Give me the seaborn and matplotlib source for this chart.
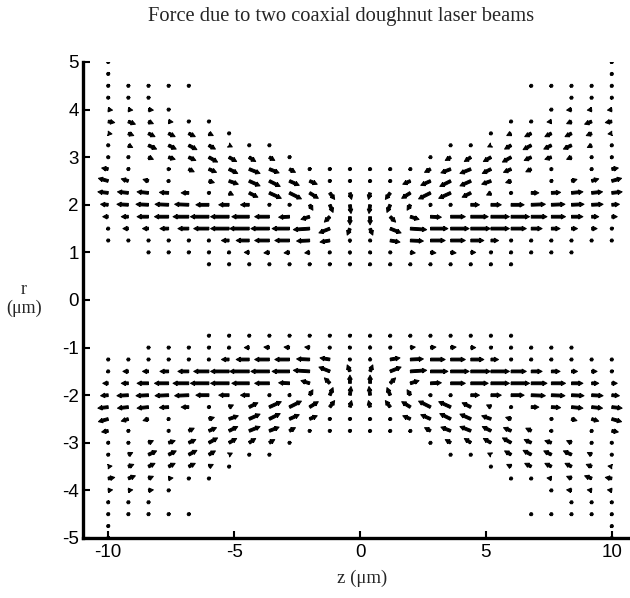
import numpy as np
import pandas as pd
import matplotlib
matplotlib.use("Agg")
import matplotlib.pyplot as plt
import seaborn as sns

# ---------------- data ----------------
title = "Force due to two coaxial doughnut laser beams"
x_label = "z (\u03bcm)"
y_label = "r\n(\u03bcm)"
x_ticks = [-10, -5, 0, 5, 10]
y_ticks = [-5, -4, -3, -2, -1, 0, 1, 2, 3, 4, 5]

# grid columns (z, um) and upper-half grid rows (r, um)
z_cols = [-10.0, -9.2, -8.4, -7.6, -6.8, -6.0, -5.2, -4.4, -3.6, -2.8, -2.0, -1.2, -0.4,
          0.4, 1.2, 2.0, 2.8, 3.6, 4.4, 5.2, 6.0, 6.8, 7.6, 8.4, 9.2, 10.0]
r_upper = [5.0, 4.75, 4.5, 4.25, 4.0, 3.75, 3.5, 3.25, 3.0, 2.75, 2.5, 2.25,
           2.0, 1.75, 1.5, 1.25, 1.0, 0.75]

# Force (Fz, Fr) read for the upper-left quadrant (z<0, r>0), arbitrary units.
# The plotted field is mirror symmetric: Fz flips sign across z=0, Fr across r=0.
D = (0.5, 0.0)   # tiny force, shows as a dot
N = None         # no arrow drawn
F_upper_left = [
    [D, N, N, N, N, N, N, N, N, N, N, N, N],                                     # r=5.0
    [D, N, N, N, N, N, N, N, N, N, N, N, N],                                     # 4.75
    [D, D, D, D, D, N, N, N, N, N, N, N, N],                                     # 4.5
    [(1.5, -0.5), D, D, N, N, N, N, N, N, N, N, N, N],                           # 4.25
    [(4, -0.5), (4, -0.5), (4.5, -0.5), D, N, N, N, N, N, N, N, N, N],           # 4.0
    [(6, -1), (6.5, -2.5), (4.5, -2), (4, -0.5), D, D, N, N, N, N, N, N, N],     # 3.75
    [(3.5, -0.5), (5, -2), (6, -3), (6, -3), (6, -3), (4, -2), D, N, N, N, N, N, N],  # 3.5
    [(3, -0.5), (4, -2), (7.5, -3.5), (7, -3.5), (7.5, -4), (6, -3.5), (3, -1.5), D, D,
     N, N, N, N],                                                                # 3.25
    [(1.5, -1), D, (4.5, -2), (6, -2), (6.5, -3), (8, -4.5), (7, -4), (6, -4), (5, -3), D,
     N, N, N],                                                                   # 3.0
    [(-6, 1), D, N, (2, -1), (5, -2.5), (7, -3), (8, -4), (10, -4), (9, -3.5), (5.5, -3),
     D, D, D],                                                                   # 2.75
    [(-9, 2.5), (-6.5, 2), (-5, 1.5), (-2, 0.5), N, (5, -1.5), (8.5, -3), (10, -4.5),
     (10, -5), (9, -4), (7, -3), D, D],                                          # 2.5
    [(-9.5, 1), (-10, 1), (-10.5, 1), (-8.5, 0.5), (-7, 0), D, (4, -2), (8, -4), (11, -5),
     (11, -5.5), (8, -5), (4.5, -6), (1.5, -6)],                                 # 2.25
    [(-7, 0.5), (-10.5, 0.5), (-11.5, 0.5), (-12.5, 0.5), (-13, 0.5), (-12, 0), (-9.5, 0),
     (-8, 0), D, (1, -1), (3, -5), (3, -7), (1, -8)],                            # 2.0
    [(-5, 0), (-6.5, 0), (-10.5, 0), (-13, 0), (-14.5, 0), (-17, 0), (-17, 0), (-16, 0),
     (-13.5, 0), (-10, -0.5), (-8, -2.5), (-5, -5), (0, -7.5)],                  # 1.75
    [(-2.5, 0), (-5, 0), (-5.5, 0), (-8, 0), (-10, 0), (-14, 0), (-17, 0), (-18, 0),
     (-17, 0), (-16, 0), (-15, -1), (-10, -4), (-2.5, -6)],                      # 1.5
    [D, D, D, D, D, (-3, 0), (-7, 0), (-12, 0), (-13.5, 0), (-13.5, 0), (-12, -0.5),
     (-9, -1.5), (-1.5, -2.5)],                                                  # 1.25
    [N, N, D, D, D, D, (-2, 0), (-4.5, 0), (-5, -0.5), (-5, -0.5), (-4.5, -0.5),
     (-2.5, -0.5), (-0.5, -1.5)],                                                # 1.0
    [N, N, N, N, N, D, D, D, D, D, D, D, D],                                     # 0.75
]

# ---------------- build the full table ----------------
rows = []
ncol = len(z_cols)
for i, r in enumerate(r_upper):
    for j, val in enumerate(F_upper_left[i]):
        if val is None:
            continue
        fz, fr = val
        zl = z_cols[j]
        zr = z_cols[ncol - 1 - j]
        rows.append((zl, r, fz, fr))
        rows.append((zr, r, -fz, fr))
        rows.append((zl, -r, fz, -fr))
        rows.append((zr, -r, -fz, -fr))
df = pd.DataFrame(rows, columns=["z", "r", "Fz", "Fr"])

# ---------------- plot ----------------
sns.set_theme(style="ticks")
plt.rcParams['font.family'] = ['Liberation Sans', 'DejaVu Sans']

fig = plt.figure(figsize=(6.3, 5.98), dpi=100)
ax = fig.add_axes([83 / 630, 60 / 598, 554 / 630, 476 / 598])

ax.quiver(df["z"], df["r"], df["Fz"], df["Fr"],
          angles="uv", scale_units="dots", scale=0.92,
          units="dots", width=2.8, headwidth=1.6, headlength=1.5,
          headaxislength=1.35, minlength=1.2, minshaft=0.4,
          pivot="tail", color="black", edgecolor="black", linewidth=0.7)

ax.set_xlim(-11, 11)
ax.set_ylim(-5, 5)
ax.set_xticks(x_ticks)
ax.set_yticks(y_ticks)
ax.set_xticklabels([str(t) for t in x_ticks])
ax.set_yticklabels([str(t) for t in y_ticks])
ax.tick_params(direction="in", length=5, width=1.5, labelsize=13.5, colors="black")
ax.tick_params(axis="x", pad=4)
ax.tick_params(axis="y", pad=3)
sns.despine(ax=ax, top=True, right=True)
for s in ("left", "bottom"):
    ax.spines[s].set_linewidth(2.4)
    ax.spines[s].set_color("black")
ax.set_facecolor("white")

fig.text(341 / 630, 1 - 17 / 598, title, ha="center", va="center",
         family="Liberation Serif", fontsize=14.8)
fig.text(362 / 630, 1 - 578 / 598, x_label, ha="center", va="center",
         family="Liberation Serif", fontsize=13.5)
fig.text(24 / 630, 1 - 299 / 598, y_label, ha="center", va="center",
         family="Liberation Serif", fontsize=13, linespacing=1.1)

fig.savefig("out.png", dpi=100, facecolor="white")
